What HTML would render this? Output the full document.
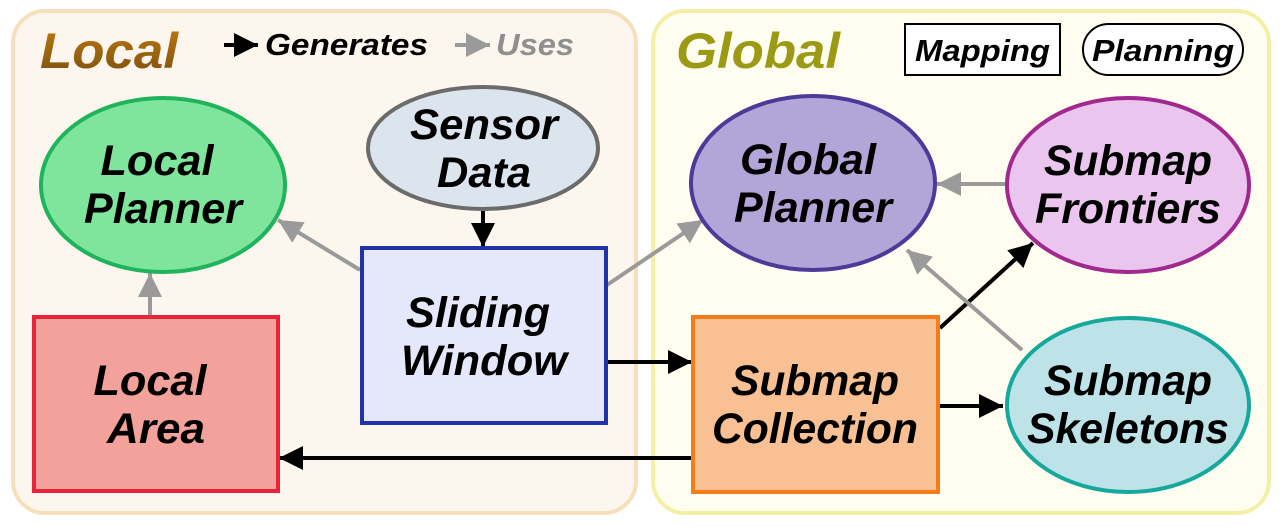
<!DOCTYPE html>
<html><head><meta charset="utf-8"><style>body{margin:0;background:#fff}svg{display:block}text{font-family:"Liberation Sans",sans-serif;font-weight:bold;font-style:italic}</style></head><body>
<svg width="1280" height="526" viewBox="0 0 1280 526" xmlns="http://www.w3.org/2000/svg">
<defs>
<marker id="ab" markerWidth="24" markerHeight="24" refX="10" refY="5" orient="auto" markerUnits="userSpaceOnUse" viewBox="0 0 10 10"><path d="M0,0 L10,5 L0,10 z" fill="#000"/></marker>
<marker id="ag" markerWidth="24" markerHeight="24" refX="10" refY="5" orient="auto" markerUnits="userSpaceOnUse" viewBox="0 0 10 10"><path d="M0,0 L10,5 L0,10 z" fill="#9a9a9a"/></marker>
<linearGradient id="lg" x1="0" y1="0" x2="0" y2="1"><stop offset="0" stop-color="#c07a10"/><stop offset="1" stop-color="#7a5010"/></linearGradient>
</defs>
<style>.b{stroke:#000;stroke-width:4;fill:none}.g{stroke:#9a9a9a;stroke-width:4;fill:none}</style>
<rect x="13" y="11" width="623" height="502" rx="32" fill="#fdf6ee" stroke="#f6e0bc" stroke-width="4"/>
<rect x="653" y="11" width="616" height="502" rx="32" fill="#fefdf0" stroke="#f3f0a6" stroke-width="4"/>
<text x="40" y="68" font-size="50" fill="url(#lg)" textLength="138" lengthAdjust="spacingAndGlyphs">Local</text>
<text x="676" y="68" font-size="50" fill="#9c9a14" textLength="164" lengthAdjust="spacingAndGlyphs">Global</text>
<path d="M224,45 H258" class="b" marker-end="url(#ab)" stroke-width="5"/>
<text x="265" y="55" font-size="31" fill="#000" textLength="163" lengthAdjust="spacingAndGlyphs">Generates</text>
<path d="M455,45 H490" class="g" marker-end="url(#ag)" stroke-width="5"/>
<text x="496" y="55" font-size="31" fill="#8f8f8f" textLength="78" lengthAdjust="spacingAndGlyphs">Uses</text>
<rect x="905" y="24" width="155" height="51" fill="#fff" stroke="#000" stroke-width="2"/>
<text x="915" y="61" font-size="31" textLength="135" lengthAdjust="spacingAndGlyphs">Mapping</text>
<rect x="1083" y="24" width="160" height="51" rx="25.5" fill="#fff" stroke="#000" stroke-width="2"/>
<text x="1092" y="61" font-size="31" textLength="142" lengthAdjust="spacingAndGlyphs">Planning</text>

<path d="M483,211 V247" class="b" marker-end="url(#ab)" stroke-width="3"/>
<path d="M360,270 L278,220" class="g" marker-end="url(#ag)" stroke-width="4"/>
<path d="M607,285 L703,220" class="g" marker-end="url(#ag)" stroke-width="4"/>
<path d="M150,315 V273" class="g" marker-end="url(#ag)" stroke-width="5"/>
<path d="M607,362 H692" class="b" marker-end="url(#ab)"/>
<path d="M691,458 H279" class="b" marker-end="url(#ab)"/>
<path d="M940,328 L1033,243" class="b" marker-end="url(#ab)"/>
<path d="M940,406 H1003" class="b" marker-end="url(#ab)"/>
<path d="M1005,184 H937" class="g" marker-end="url(#ag)" stroke-width="5"/>
<path d="M1022,350 L907,250" class="g" marker-end="url(#ag)" stroke-width="4"/>

<ellipse cx="163" cy="185" rx="122" ry="87" fill="#80e59c" stroke="#1fb45c" stroke-width="4"/>
<text x="157" y="175" font-size="43" text-anchor="middle" textLength="113" lengthAdjust="spacingAndGlyphs">Local</text>
<text x="163" y="223" font-size="43" text-anchor="middle" textLength="158" lengthAdjust="spacingAndGlyphs">Planner</text>
<ellipse cx="483" cy="148" rx="115" ry="61" fill="#dce4ee" stroke="#6b6b6b" stroke-width="4"/>
<text x="484" y="139" font-size="43" text-anchor="middle" textLength="148" lengthAdjust="spacingAndGlyphs">Sensor</text>
<text x="484" y="187" font-size="43" text-anchor="middle" textLength="94" lengthAdjust="spacingAndGlyphs">Data</text>
<rect x="362" y="248" width="244" height="175" fill="#e5e7fb" stroke="#2233aa" stroke-width="4"/>
<text x="478" y="327" font-size="43" text-anchor="middle" textLength="144" lengthAdjust="spacingAndGlyphs">Sliding</text>
<text x="484" y="375" font-size="43" text-anchor="middle" textLength="166" lengthAdjust="spacingAndGlyphs">Window</text>
<rect x="34" y="317" width="244" height="174" fill="#f2a19b" stroke="#e8243a" stroke-width="4"/>
<text x="150" y="395" font-size="43" text-anchor="middle" textLength="113" lengthAdjust="spacingAndGlyphs">Local</text>
<text x="156" y="443" font-size="43" text-anchor="middle" textLength="98" lengthAdjust="spacingAndGlyphs">Area</text>
<ellipse cx="813" cy="183" rx="122" ry="87" fill="#b2a6d8" stroke="#4a3a9a" stroke-width="4"/>
<text x="808" y="174" font-size="43" text-anchor="middle" textLength="136" lengthAdjust="spacingAndGlyphs">Global</text>
<text x="813" y="222" font-size="43" text-anchor="middle" textLength="158" lengthAdjust="spacingAndGlyphs">Planner</text>
<ellipse cx="1128" cy="185" rx="121" ry="87" fill="#eac6ee" stroke="#a0288e" stroke-width="4"/>
<text x="1128" y="175" font-size="43" text-anchor="middle" textLength="168" lengthAdjust="spacingAndGlyphs">Submap</text>
<text x="1128" y="223" font-size="43" text-anchor="middle" textLength="186" lengthAdjust="spacingAndGlyphs">Frontiers</text>
<rect x="693" y="317" width="245" height="175" fill="#f9c193" stroke="#f27d1a" stroke-width="4"/>
<text x="815" y="395" font-size="43" text-anchor="middle" textLength="168" lengthAdjust="spacingAndGlyphs">Submap</text>
<text x="815" y="443" font-size="43" text-anchor="middle" textLength="206" lengthAdjust="spacingAndGlyphs">Collection</text>
<ellipse cx="1128" cy="405" rx="121" ry="87" fill="#bde3e8" stroke="#16a89c" stroke-width="4"/>
<text x="1128" y="395" font-size="43" text-anchor="middle" textLength="168" lengthAdjust="spacingAndGlyphs">Submap</text>
<text x="1128" y="443" font-size="43" text-anchor="middle" textLength="202" lengthAdjust="spacingAndGlyphs">Skeletons</text>
</svg>
</body></html>
